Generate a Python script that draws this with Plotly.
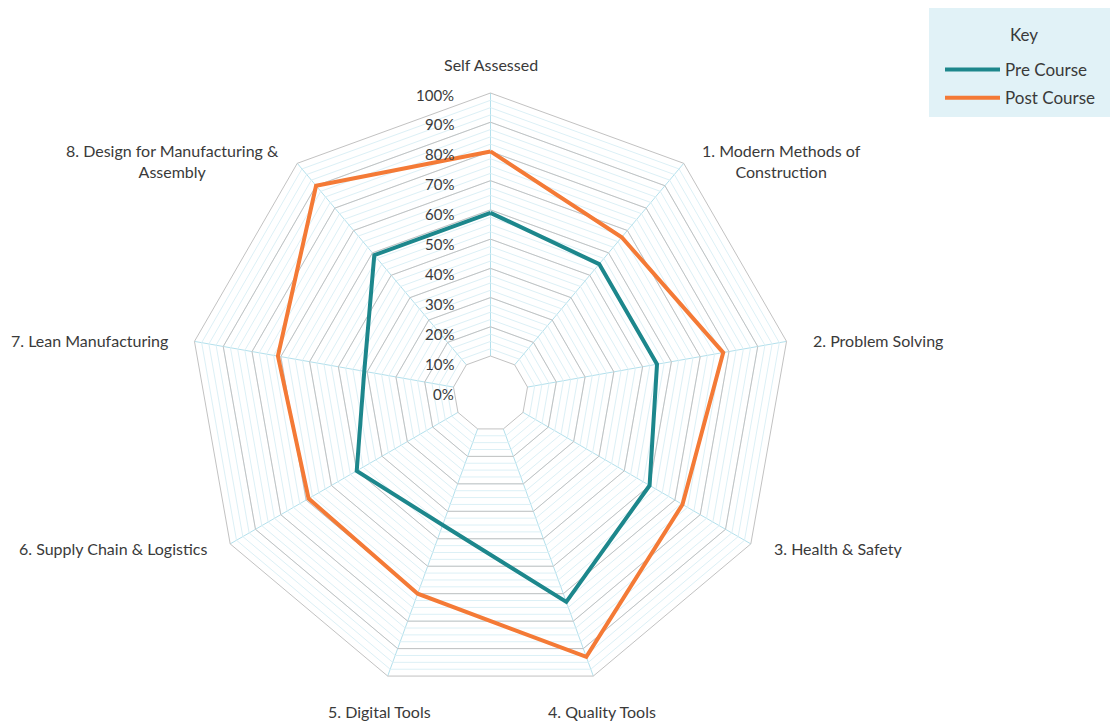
import numpy as np
import plotly.graph_objects as go

# Skill areas around the radar, clockwise from the top
categories = [
    "Self Assessed",
    "1. Modern Methods of<br>Construction",
    "2. Problem Solving",
    "3. Health & Safety",
    "4. Quality Tools",
    "5. Digital Tools",
    "6. Supply Chain & Logistics",
    "7. Lean Manufacturing",
    "8. Design for Manufacturing &<br>Assembly",
]

# Confidence scores (%)
pre_course = [59, 55, 55, 60, 73, 45, 50, 41, 59]
post_course = [80, 67, 78, 73, 93, 70, 69, 71, 90]

# Radial tick labels
tick_values = list(range(0, 101, 10))
tick_labels = [f"{v}%" for v in tick_values]

TEAL = "#1d878c"
ORANGE = "#f47a36"
MAJOR_GRID = "#c2c2c2"
MINOR_GRID = "#dcf0f6"
SPOKE = "#b3e0ec"
TEXT = "#3a3a3a"
KEY_BG = "#e1f2f7"
FONT = "Lato"

def closed(values):
    return list(values) + list(values[:1])

theta_closed = closed(categories)

fig = go.Figure()

# Empty trace so the background polar layer knows the category spokes
fig.add_trace(go.Scatterpolar(
    r=[None] * len(categories), theta=categories, subplot="polar",
    mode="lines", showlegend=False, hoverinfo="skip",
))

fig.add_trace(go.Scatterpolar(
    r=closed(pre_course), theta=theta_closed, subplot="polar2",
    mode="lines", name="Pre Course", legendgroup="pre",
    line=dict(color=TEAL, width=4),
))
fig.add_trace(go.Scatterpolar(
    r=closed(post_course), theta=theta_closed, subplot="polar2",
    mode="lines", name="Post Course", legendgroup="post",
    line=dict(color=ORANGE, width=4),
))

W, H = 1114, 722
cx, cy, R = 490.5, 393.6, 300.6
domain = dict(
    x=[(cx - R) / W, (cx + R) / W],
    y=[1 - (cy + R) / H, 1 - (cy - R) / H],
)
hole = 0.125

def px_to_paper(x, y):
    return x / W, 1 - y / H

# Minor rings every 2.5% and the light spokes
polar_minor = dict(
    domain=domain, gridshape="linear", hole=hole, bgcolor="white",
    radialaxis=dict(
        range=[10, 100], tickvals=list(np.arange(10, 100.01, 2.5)),
        showticklabels=False, ticks="", showline=False,
        gridcolor=MINOR_GRID, gridwidth=1, angle=90,
    ),
    angularaxis=dict(
        rotation=90, direction="clockwise", showticklabels=False,
        ticks="", showline=False, gridcolor=SPOKE, gridwidth=1,
    ),
)

# Major rings every 10%, the outer border and the data
polar_major = dict(
    domain=domain, gridshape="linear", hole=hole, bgcolor="rgba(0,0,0,0)",
    radialaxis=dict(
        range=[10, 100], tickvals=list(range(10, 101, 10)),
        showticklabels=False, ticks="", showline=False,
        gridcolor=MAJOR_GRID, gridwidth=1, angle=90,
    ),
    angularaxis=dict(
        rotation=90, direction="clockwise", showgrid=False,
        showline=True, linecolor=MAJOR_GRID, linewidth=1,
        showticklabels=False, ticks="",
    ),
)

annotations = []

# Percentage labels in a column to the left of the top spoke
for v, txt in zip(tick_values, tick_labels):
    x, y = px_to_paper(cx - 35, cy - 0.995 * R * v / 100)
    annotations.append(dict(
        x=x, y=y, xref="paper", yref="paper", text=txt, showarrow=False,
        xanchor="right", yanchor="middle",
        font=dict(family=FONT, size=15, color=TEXT),
    ))

# Category labels just outside the outer ring
label_r = R + 25
n = len(categories)
for i, name in enumerate(categories):
    ang = np.deg2rad(360 * i / n)
    s, c = np.sin(ang), np.cos(ang)
    x, y = px_to_paper(cx + label_r * s, cy - label_r * c)
    if abs(s) < 0.5:
        xanchor = "center"
    else:
        xanchor = "left" if s > 0 else "right"
    if c > 0.9:
        yanchor, yshift = "bottom", -8
    elif abs(c) < 0.3:
        yanchor, yshift = "middle", -3
    elif abs(c) < 0.6:
        yanchor, yshift = "middle", 8
    elif c > 0:
        yanchor, yshift = "top", 5
    else:
        yanchor, yshift = "top", 0
    annotations.append(dict(
        x=x, y=y, xref="paper", yref="paper", text=name, showarrow=False,
        xanchor=xanchor, yanchor=yanchor, yshift=yshift, align="center",
        font=dict(family=FONT, size=16, color=TEXT),
    ))

# Key panel and its heading
kx0, ky0 = px_to_paper(929, 8)
kx1, ky1 = px_to_paper(1110, 117)
shapes = [dict(
    type="rect", xref="paper", yref="paper",
    x0=kx0, x1=kx1, y0=ky1, y1=ky0,
    fillcolor=KEY_BG, line=dict(width=0), layer="below",
)]
tx, ty = px_to_paper(1024, 35)
annotations.append(dict(
    x=tx, y=ty, xref="paper", yref="paper", text="Key", showarrow=False,
    xanchor="center", yanchor="middle",
    font=dict(family=FONT, size=17, color=TEXT),
))

lx, ly = px_to_paper(940, 52)

fig.update_layout(
    width=W, height=H,
    margin=dict(l=0, r=0, t=0, b=0),
    paper_bgcolor="rgba(0,0,0,0)",
    plot_bgcolor="rgba(0,0,0,0)",
    font=dict(family=FONT, color=TEXT),
    polar=polar_minor,
    polar2=polar_major,
    annotations=annotations,
    shapes=shapes,
    showlegend=True,
    legend=dict(
        x=lx, xanchor="left", y=ly, yanchor="top",
        bgcolor="rgba(0,0,0,0)", borderwidth=0,
        font=dict(family=FONT, size=17, color=TEXT),
        itemwidth=55, tracegroupgap=3, traceorder="grouped",
    ),
)

fig.write_html("out.html")
